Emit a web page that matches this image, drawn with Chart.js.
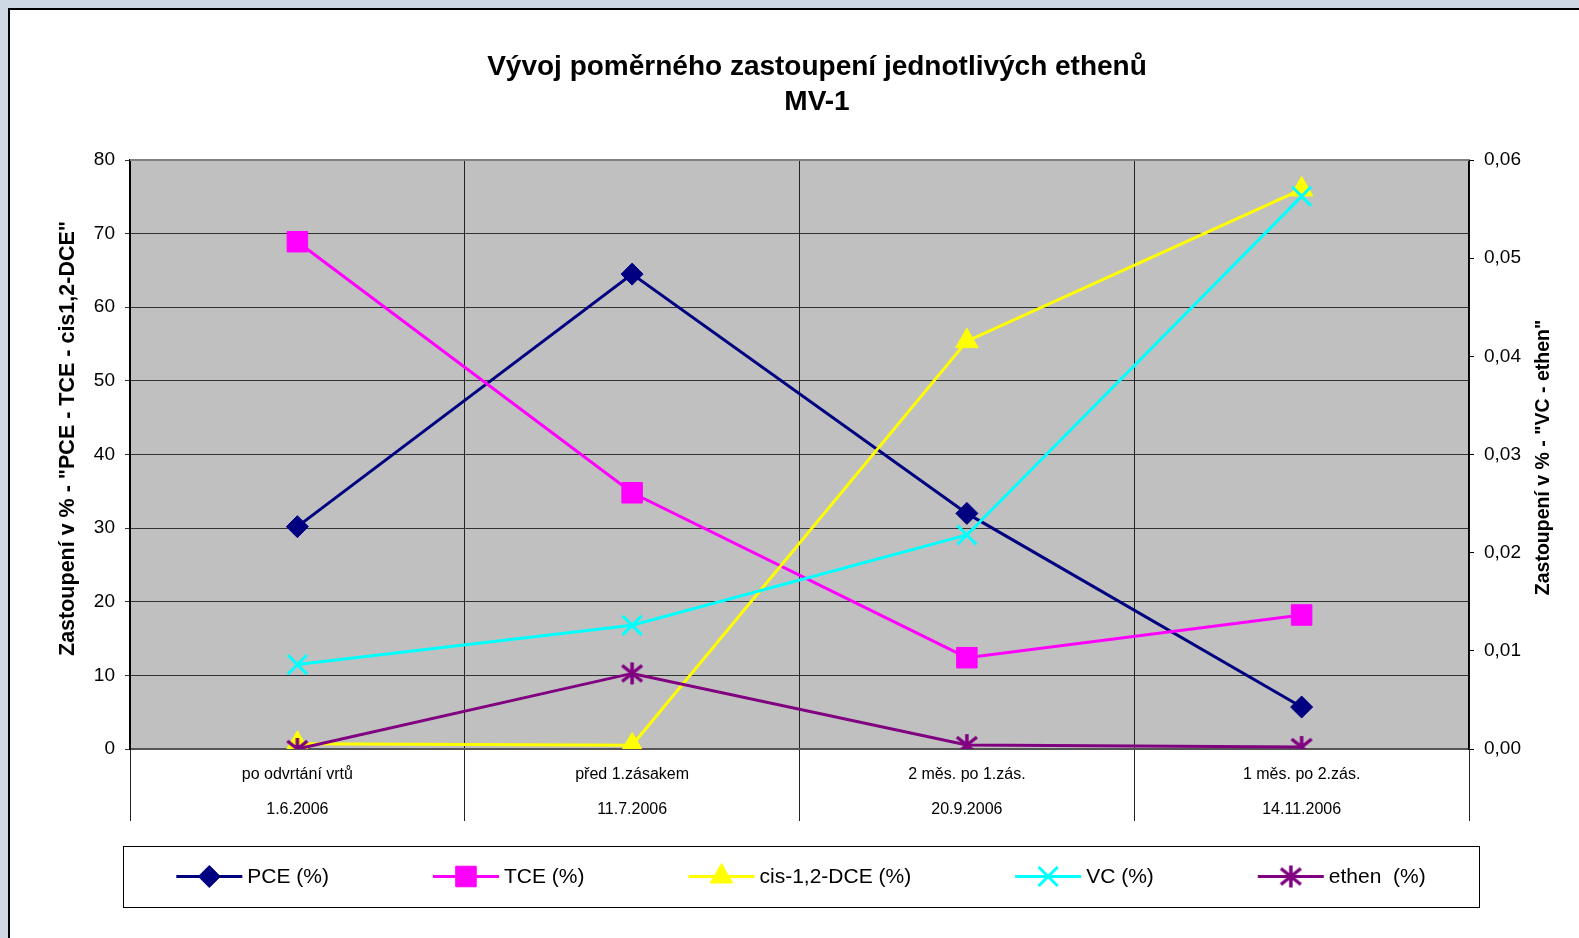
<!DOCTYPE html>
<html>
<head>
<meta charset="utf-8">
<script src="https://cdn.jsdelivr.net/npm/chart.js@4/dist/chart.umd.min.js"></script>
<style>
    body { margin: 0; overflow: hidden; background: #cdd8e4; }
    canvas { display: block; }
</style>
</head>
<body>
<canvas id="lineChart" width="1626" height="938"></canvas>
<script>
// data
var stages = ['po odvrtání vrtů', 'před 1.zásakem', '2 měs. po 1.zás.', '1 měs. po 2.zás.'];
var dates = ['1.6.2006', '11.7.2006', '20.9.2006', '14.11.2006'];
var pce = [30.2, 64.5, 32.0, 5.7];
var tce = [68.9, 34.8, 12.4, 18.2];
var cis = [0.7, 0.5, 55.4, 76.0];
var vc = [0.0086, 0.0126, 0.0218, 0.0563];      // right axis
var ethen = [0.0, 0.0077, 0.0004, 0.0002];      // right axis
var leftTicks = { min: 0, max: 80, step: 10 };
var rightTicks = { min: 0, max: 0.06, step: 0.01 };

var chartTitle = ['Vývoj poměrného zastoupení jednotlivých ethenů', 'MV-1'];
var leftTitle = 'Zastoupení v % - "PCE - TCE - cis1,2-DCE"';
var rightTitle = 'Zastoupení v % - "VC - ethen"';

var fontFamily = "'Liberation Sans', Arial, sans-serif";
Chart.defaults.font.family = fontFamily;
Chart.defaults.color = '#000';

var labels = [];
for (var i in stages) {
    labels.push([stages[i], dates[i]]);
}

// excel style asterisk marker
function starMarker(color) {
    var c = document.createElement('canvas');
    c.width = 24; c.height = 24;
    var g = c.getContext('2d');
    g.strokeStyle = color;
    g.lineWidth = 3.5;
    g.beginPath();
    g.moveTo(12, 1); g.lineTo(12, 23);
    g.moveTo(2, 4); g.lineTo(22, 20);
    g.moveTo(2, 20); g.lineTo(22, 4);
    g.stroke();
    return c;
}

function rotatedText(ctx, text, x, y, size) {
    ctx.save();
    ctx.translate(x, y);
    ctx.rotate(-Math.PI / 2);
    ctx.font = 'bold ' + size + 'px ' + fontFamily;
    ctx.fillStyle = '#000';
    ctx.textAlign = 'center';
    ctx.textBaseline = 'middle';
    ctx.fillText(text, 0, 0);
    ctx.restore();
}

var framePlugin = {
    id: 'frame',
    beforeDraw: function (chart) {
        var ctx = chart.ctx, a = chart.chartArea;
        ctx.save();
        ctx.fillStyle = '#cdd8e4';
        ctx.fillRect(0, 0, chart.width, chart.height);
        ctx.fillStyle = '#fff';
        ctx.fillRect(8, 8, chart.width, chart.height);
        ctx.strokeStyle = '#000';
        ctx.lineWidth = 2;
        ctx.beginPath();
        ctx.moveTo(9, chart.height); ctx.lineTo(9, 9); ctx.lineTo(chart.width, 9);
        ctx.stroke();
        ctx.fillStyle = '#c0c0c0';
        ctx.fillRect(a.left, a.top, a.right - a.left, a.bottom - a.top);
        ctx.restore();
    },
    beforeDatasetsDraw: function (chart) {
        var ctx = chart.ctx, a = chart.chartArea;
        ctx.save();
        ctx.strokeStyle = '#808080';
        ctx.lineWidth = 2;
        ctx.beginPath();
        ctx.moveTo(a.left, a.top); ctx.lineTo(a.right, a.top);
        ctx.stroke();
        ctx.restore();
    },
    afterDraw: function (chart) {
        var ctx = chart.ctx, a = chart.chartArea;
        var mid = (a.top + a.bottom) / 2;
        // axis titles, both read bottom to top
        rotatedText(ctx, leftTitle, a.left - 62, mid - 16, 21.5);
        rotatedText(ctx, rightTitle, a.right + 75, mid + 3, 19.5);

        // legend box
        var boxL = a.left - 7, boxR = a.right + 10, boxT = a.bottom + 97, boxH = 61;
        ctx.save();
        ctx.fillStyle = '#fff';
        ctx.fillRect(boxL, boxT, boxR - boxL, boxH);
        ctx.strokeStyle = '#000';
        ctx.lineWidth = 1;
        ctx.strokeRect(boxL + 0.5, boxT + 0.5, boxR - boxL, boxH);
        ctx.font = '21px ' + fontFamily;
        var sets = chart.data.datasets;
        var lineLen = 66, gap = 5, between = 104;
        var total = 0;
        sets.forEach(function (ds, k) {
            total += lineLen + gap + ctx.measureText(ds.label).width;
            if (k > 0) total += between;
        });
        var x = (boxL + boxR) / 2 - total / 2;
        var y = boxT + boxH / 2;
        sets.forEach(function (ds) {
            ctx.strokeStyle = ds.borderColor;
            ctx.lineWidth = 3;
            ctx.beginPath();
            ctx.moveTo(x, y); ctx.lineTo(x + lineLen, y);
            ctx.stroke();
            ctx.fillStyle = ds.pointBackgroundColor;
            ctx.strokeStyle = ds.pointBorderColor;
            ctx.lineWidth = ds.pointBorderWidth;
            Chart.helpers.drawPoint(ctx, {
                pointStyle: ds.pointStyle, radius: ds.pointRadius, rotation: 0, borderWidth: ds.pointBorderWidth
            }, x + lineLen / 2, y);
            ctx.fillStyle = '#000';
            ctx.textAlign = 'left';
            ctx.textBaseline = 'middle';
            ctx.fillText(ds.label, x + lineLen + gap, y + 1);
            x += lineLen + gap + ctx.measureText(ds.label).width + between;
        });
        ctx.restore();
    }
};

function series(label, data, color, style, radius, axis, order) {
    return {
        label: label,
        data: data,
        yAxisID: axis,
        borderColor: color,
        backgroundColor: color,
        borderWidth: 3,
        tension: 0,
        pointStyle: style,
        pointRadius: radius,
        pointHoverRadius: radius,
        pointBackgroundColor: color,
        pointBorderColor: color,
        pointBorderWidth: (style === 'crossRot') ? 3 : 1,
        order: order
    };
}

var ctx = document.getElementById('lineChart').getContext('2d');
var myChart = new Chart(ctx, {
    type: 'line',
    data: {
        labels: labels,
        datasets: [
            series('PCE (%)', pce, '#000080', 'rectRot', 11, 'y', 4),
            series('TCE (%)', tce, '#ff00ff', 'rect', 14.5, 'y', 3),
            series('cis-1,2-DCE (%)', cis, '#ffff00', 'triangle', 13, 'y', 2),
            series('VC (%)', vc, '#00ffff', 'crossRot', 13.5, 'y1', 1),
            series('ethen  (%)', ethen, '#800080', starMarker('#800080'), 12, 'y1', 0)
        ]
    },
    plugins: [framePlugin],
    options: {
        responsive: false,
        animation: false,
        layout: { padding: { left: 8, top: 0, right: 0, bottom: 0 } },
        plugins: {
            legend: { display: false },
            tooltip: { enabled: false },
            title: {
                display: true,
                text: chartTitle,
                color: '#000',
                font: { size: 28, weight: 'bold', lineHeight: 1.25 },
                padding: { top: 49.5, bottom: 40.5 }
            }
        },
        scales: {
            x: {
                offset: true,
                grid: { offset: true, color: '#222', lineWidth: 1, tickLength: 72, drawTicks: true },
                border: { color: '#555', width: 2 },
                ticks: { font: { size: 16, lineHeight: 2.1875 }, padding: -64, maxRotation: 0, autoSkip: false },
                afterFit: function (scale) { scale.height = 189; }
            },
            y: {
                position: 'left',
                min: leftTicks.min,
                max: leftTicks.max,
                ticks: { stepSize: leftTicks.step, font: { size: 19 }, padding: 10 },
                grid: { color: '#333', lineWidth: 1, tickLength: 5 },
                border: { color: '#000', width: 2 },
                afterFit: function (scale) { scale.width = 122; }
            },
            y1: {
                position: 'right',
                min: rightTicks.min,
                max: rightTicks.max,
                ticks: {
                    stepSize: rightTicks.step,
                    font: { size: 19 },
                    padding: 10,
                    callback: function (v) { return v.toFixed(2).replace('.', ','); }
                },
                grid: { drawOnChartArea: false, color: '#000', tickLength: 5 },
                border: { color: '#000', width: 1.5 },
                afterFit: function (scale) { scale.width = 157; }
            }
        }
    }
});
</script>
</body>
</html>
